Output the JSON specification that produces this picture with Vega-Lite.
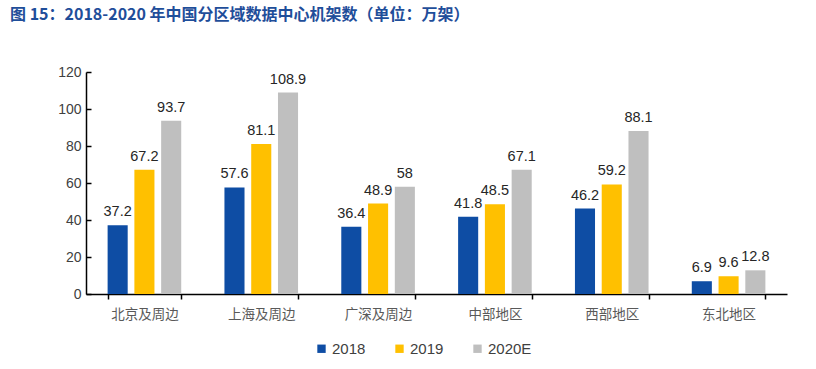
{
  "$schema": "https://vega.github.io/schema/vega-lite/v6.json",
  "width": 701,
  "height": 222,
  "autosize": {"type": "none"},
  "padding": {"left": 86, "top": 72, "right": 29, "bottom": 75},
  "background": "white",
  "title": {
    "text": "图 15：2018-2020 年中国分区域数据中心机架数（单位：万架）",
    "anchor": "start",
    "frame": "group",
    "dx": -76,
    "offset": 42,
    "font": "Noto Sans CJK SC",
    "fontSize": 16,
    "fontWeight": "bold",
    "color": "#1F4E9A"
  },
  "data": {
    "values": [
      {"region": "北京及周边", "year": "2018", "value": 37.2},
      {"region": "北京及周边", "year": "2019", "value": 67.2},
      {"region": "北京及周边", "year": "2020E", "value": 93.7},
      {"region": "上海及周边", "year": "2018", "value": 57.6},
      {"region": "上海及周边", "year": "2019", "value": 81.1},
      {"region": "上海及周边", "year": "2020E", "value": 108.9},
      {"region": "广深及周边", "year": "2018", "value": 36.4},
      {"region": "广深及周边", "year": "2019", "value": 48.9},
      {"region": "广深及周边", "year": "2020E", "value": 58},
      {"region": "中部地区", "year": "2018", "value": 41.8},
      {"region": "中部地区", "year": "2019", "value": 48.5},
      {"region": "中部地区", "year": "2020E", "value": 67.1},
      {"region": "西部地区", "year": "2018", "value": 46.2},
      {"region": "西部地区", "year": "2019", "value": 59.2},
      {"region": "西部地区", "year": "2020E", "value": 88.1},
      {"region": "东北地区", "year": "2018", "value": 6.9},
      {"region": "东北地区", "year": "2019", "value": 9.6},
      {"region": "东北地区", "year": "2020E", "value": 12.8}
    ]
  },
  "encoding": {
    "x": {
      "field": "region",
      "type": "nominal",
      "sort": null,
      "title": null,
      "scale": {"paddingInner": 0.37, "paddingOuter": 0.185},
      "axis": {
        "labelAngle": 0,
        "labelFont": "Noto Sans CJK SC",
        "labelFontSize": 13.5,
        "labelColor": "#595959",
        "labelPadding": 8,
        "domainColor": "#000000",
        "domainWidth": 1.5,
        "tickColor": "#000000",
        "tickBand": "extent",
        "tickSize": 5,
        "tickWidth": 1.5,
        "grid": false
      }
    },
    "xOffset": {"field": "year", "type": "nominal", "scale": {"paddingInner": 0.25}},
    "y": {
      "field": "value",
      "type": "quantitative",
      "title": null,
      "scale": {"domain": [0, 120]},
      "axis": {
        "values": [0, 20, 40, 60, 80, 100, 120],
        "grid": false,
        "labelFont": "Liberation Sans",
        "labelFontSize": 14,
        "labelColor": "#404040",
        "labelPadding": 10,
        "domainColor": "#000000",
        "domainWidth": 1.5,
        "tickColor": "#000000",
        "tickSize": -5,
        "tickWidth": 1.5
      }
    }
  },
  "layer": [
    {
      "mark": {"type": "bar"},
      "encoding": {
        "color": {
          "field": "year",
          "type": "nominal",
          "scale": {"domain": ["2018", "2019", "2020E"], "range": ["#0E4DA4", "#FFC000", "#BFBFBF"]},
          "legend": {
            "title": null,
            "orient": "none",
            "legendX": 228,
            "legendY": 269,
            "direction": "horizontal",
            "symbolType": "square",
            "symbolSize": 70,
            "symbolStrokeWidth": 0,
            "labelFont": "Liberation Sans",
            "labelFontSize": 15,
            "labelColor": "#404040",
            "labelOffset": 3,
            "columnPadding": 26
          }
        }
      }
    },
    {
      "mark": {"type": "text", "baseline": "bottom", "dy": -6, "font": "Liberation Sans", "fontSize": 14.5, "color": "#262626"},
      "encoding": {
        "text": {"field": "value", "type": "quantitative"}
      }
    }
  ],
  "config": {"view": {"stroke": null}}
}
